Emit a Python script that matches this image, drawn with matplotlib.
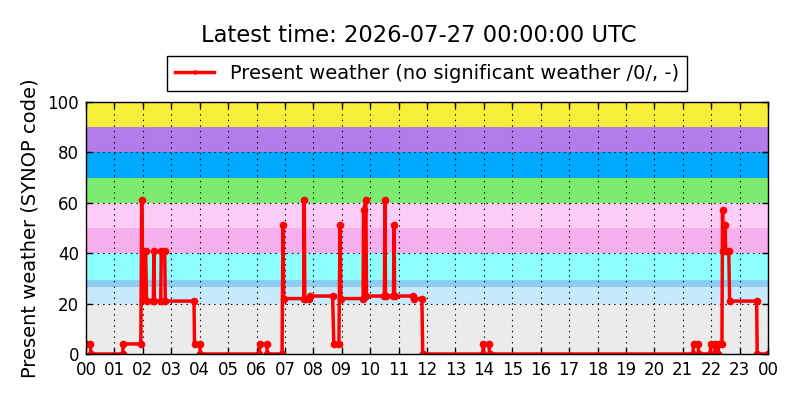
import matplotlib
matplotlib.use("Agg")
import matplotlib.pyplot as plt

plt.rcParams["lines.scale_dashes"] = False

# ---- data (hours since 00 UTC, SYNOP present-weather code) ----
times = [0.00, 0.15, 0.17, 1.29, 1.31, 1.93, 1.96, 1.99, 2.02, 2.10, 2.13,
         2.37, 2.39, 2.41, 2.63, 2.65, 2.77, 2.79, 3.80, 3.82, 4.00, 4.02,
         6.10, 6.12, 6.36, 6.38, 6.90, 6.93, 6.96, 7.66, 7.68, 7.70, 7.86,
         7.90, 8.68, 8.72, 8.90, 8.94, 8.97, 9.75, 9.77, 9.85, 9.87, 10.50,
         10.52, 10.54, 10.82, 10.84, 10.86, 11.50, 11.54, 11.82, 11.85,
         13.96, 13.98, 14.18, 14.20,
         21.36, 21.38, 21.54, 21.56, 21.97, 21.99, 22.12, 22.14, 22.24,
         22.26, 22.38, 22.40, 22.42, 22.49, 22.51, 22.62, 22.65, 23.60,
         23.62, 24.00]
codes = [4, 4, 0, 0, 4, 4, 61, 22, 41, 41, 21,
         21, 41, 21, 21, 41, 41, 21, 21, 4, 4, 0,
         0, 4, 4, 0, 0, 51, 22, 22, 61, 22, 22,
         23, 23, 4, 4, 51, 22, 22, 57, 61, 23, 23,
         61, 23, 23, 51, 23, 23, 22, 22, 0,
         0, 4, 4, 0,
         0, 4, 4, 0, 0, 4, 4, 0, 0,
         4, 4, 57, 41, 51, 41, 41, 21, 21,
         0, 0]

band_edges = [0, 20, 26.5, 29.5, 40, 50, 60, 70, 80, 90, 100]
band_colors = ["#ebebeb", "#c6e9fb", "#8fccf2", "#8effff", "#f5afec",
               "#fdcdf7", "#7deb70", "#00aaff", "#b17de8", "#f5ef3a"]

hour_ticks = list(range(0, 25))
hour_labels = ["%02d" % (h % 24) for h in hour_ticks]
y_ticks = [0, 20, 40, 60, 80, 100]

title = "Latest time: 2026-07-27 00:00:00 UTC"
series_label = "Present weather (no significant weather /0/, -)"
ylabel = "Present weather (SYNOP code)"

# ---- figure ----
fig = plt.figure(figsize=(8, 4), dpi=100)
ax = fig.add_axes([0.1075, 0.115, 0.8525, 0.63])

for lo, hi, c in zip(band_edges[:-1], band_edges[1:], band_colors):
    ax.axhspan(lo, hi, color=c, lw=0, zorder=0.5)

ax.plot(times, codes, color="red", lw=2.5, marker=".", ms=9,
        label=series_label, zorder=3, clip_on=True)

ax.set_xlim(0, 24)
ax.set_ylim(0, 100)
ax.set_xticks(hour_ticks)
ax.set_xticklabels(hour_labels)
ax.set_yticks(y_ticks)
ax.tick_params(direction="in", top=True, right=True, labelsize=12,
               length=4, width=1, pad=5)
ax.grid(True, color="black", linestyle=(0, (1, 3)), linewidth=0.8, zorder=1)
ax.set_axisbelow(False)
for s in ax.spines.values():
    s.set_linewidth(1)
    s.set_zorder(4)

ax.set_ylabel(ylabel, fontsize=14, labelpad=6)

leg = ax.legend(loc="lower center", bbox_to_anchor=(0.5, 1.045),
                fontsize=14, fancybox=False, framealpha=1,
                edgecolor="black", borderaxespad=0, markerscale=0.5)
leg.get_frame().set_linewidth(1)

fig.text(419 / 800, 1 - 35 / 400, title, ha="center", va="center",
         fontsize=16.3)

fig.savefig("out.png", dpi=100)
